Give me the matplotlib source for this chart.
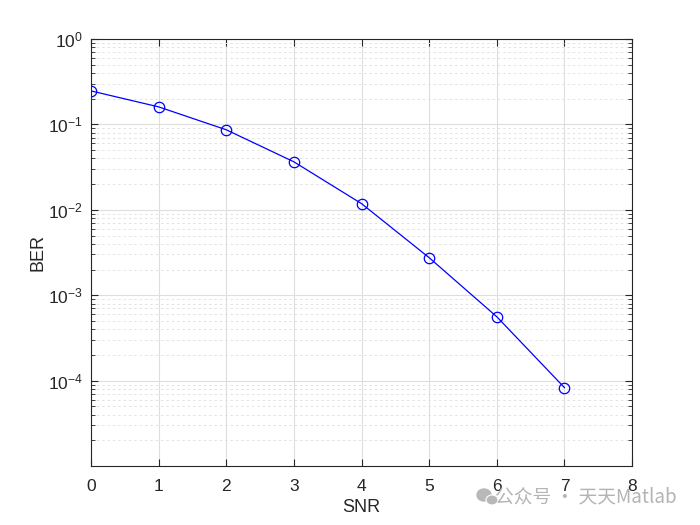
import matplotlib
matplotlib.use("Agg")
import matplotlib.pyplot as plt
from matplotlib.patches import Ellipse
from matplotlib.ticker import LogLocator, NullFormatter

snr = [0, 1, 2, 3, 4, 5, 6, 7]
ber = [0.246, 0.160, 0.0863, 0.0364, 0.0118, 0.00275, 5.6e-4, 8.3e-5]

plt.rcParams['font.family'] = ['Liberation Sans', 'DejaVu Sans']

fig = plt.figure(figsize=(7, 5.25), dpi=100)
ax = fig.add_axes([0.13, 0.112, 0.773, 0.814])

ax.semilogy(snr, ber, '-o', color='#0000ff', lw=0.9, markersize=7.5,
            markerfacecolor='none', markeredgewidth=0.9)

ax.set_xlim(0, 8)
ax.set_ylim(1.0e-5, 1)
ax.set_xticks(range(9))
ax.set_yticks([1e-4, 1e-3, 1e-2, 1e-1, 1e0])
ax.yaxis.set_minor_locator(LogLocator(base=10, subs=range(2, 10)))
ax.yaxis.set_minor_formatter(NullFormatter())

ax.grid(True, which='major', color='#dedede', lw=0.8, ls='-')
ax.grid(True, which='minor', axis='y', color='#e2e2e2', lw=0.7, ls=(0, (2.5, 3)))
ax.set_axisbelow(True)

ax.tick_params(which='both', direction='in', top=True, right=True,
               labelsize=12.5, colors='#262626')
ax.tick_params(which='major', length=5)
ax.tick_params(which='minor', length=3)
ax.tick_params(axis='x', pad=9)
ax.tick_params(axis='y', pad=6)
for s in ax.spines.values():
    s.set_color('#262626')
    s.set_linewidth(0.8)

ax.set_xlabel('SNR', fontsize=13, color='#262626', labelpad=4)
ax.set_ylabel('BER', fontsize=13, color='#262626', labelpad=1)

# watermark
fig.text(0.707, 0.053, '公众号 · 天天Matlab', fontsize=13.5, color='#b4b4b4',
         family=['Noto Sans CJK SC', 'DejaVu Sans'], va='center')
fig.patches.append(Ellipse((4.84, 0.30), 0.14, 0.12, color='#b8b8b8',
                           transform=fig.dpi_scale_trans))
fig.patches.append(Ellipse((4.92, 0.25), 0.12, 0.10, fc='#b8b8b8',
                           ec='white', lw=0.8, transform=fig.dpi_scale_trans))

fig.savefig('out.png', dpi=100)
